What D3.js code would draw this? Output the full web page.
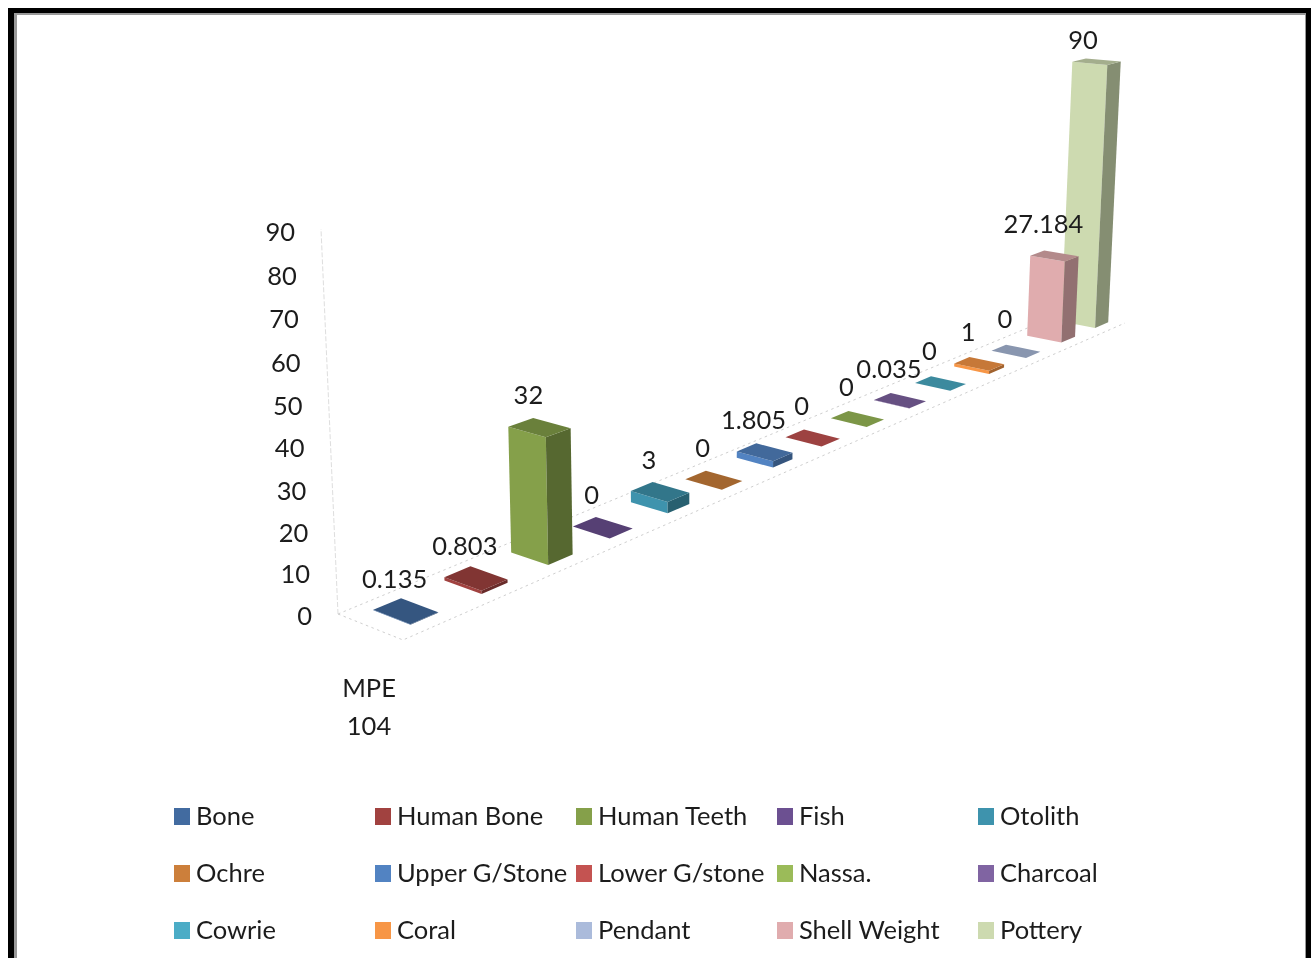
<!DOCTYPE html>
<html><head><meta charset="utf-8">
<script src="https://cdn.jsdelivr.net/npm/d3@7/dist/d3.min.js"></script>
<style>
html,body{margin:0;padding:0;background:#fff;overflow:hidden}
svg{display:block;filter:blur(0.6px)}
text{font-family:Lato,"Noto Sans",sans-serif;fill:#1c1c1c}
</style></head><body>
<script>
const categories=["MPE","104"];
const seriesNames=["Bone","Human Bone","Human Teeth","Fish","Otolith","Ochre","Upper G/Stone","Lower G/stone","Nassa.","Charcoal","Cowrie","Coral","Pendant","Shell Weight","Pottery"];
const seriesValues=[0.135,0.803,32,0,3,0,1.805,0,0,0.035,0,1,0,27.184,90];
const seriesColors=["#426BA0","#A14240","#85A04A","#6C5091","#3E93AD","#CC7F3B","#5283C2","#C45351","#9BBB59","#8064A2","#4BACC6","#F79646","#ABBBDB","#E0ACAE","#CDDAB0"];
const tickValues=[0,10,20,30,40,50,60,70,80,90];

const W=1311,H=958;
const svg=d3.select("body").append("svg").attr("width",W).attr("height",H);

// frame
svg.append("rect").attr("x",8).attr("y",8).attr("width",1310).attr("height",970).attr("fill","#000");
svg.append("rect").attr("x",14).attr("y",13).attr("width",1292).attr("height",960).attr("fill","#999");
svg.append("rect").attr("x",17).attr("y",15).attr("width",1288).attr("height",960).attr("fill","#fff");

// floor homography: unit square (s,t) -> screen
const A=[338,614],D=[1066,312],C=[1125,323],B=[403,640];
const hom=(function(){
  const dx1=D[0]-C[0],dx2=B[0]-C[0],sx=A[0]-D[0]+C[0]-B[0];
  const dy1=D[1]-C[1],dy2=B[1]-C[1],sy=A[1]-D[1]+C[1]-B[1];
  const den=dx1*dy2-dx2*dy1;
  const g=(sx*dy2-dx2*sy)/den,h=(dx1*sy-sx*dy1)/den;
  return {g,h,a:D[0]-A[0]+g*D[0],b:B[0]-A[0]+h*B[0],d:D[1]-A[1]+g*D[1],e:B[1]-A[1]+h*B[1]};
})();
const uScale=d3.scaleLinear().domain([0,seriesValues.length]).range([0,1]);
const heightScale=d3.scaleLinear().domain([0,90]).range([0,378]);
const centerU=d3.scaleLinear().domain([0,2,4,7,10,14]).range([0.505,2.594,4.647,7.70,10.693,14.68]);
function project(u,w,v){
  const s=uScale(u),t=w;
  const q=1+hom.g*s+hom.h*t;
  const x=(hom.a*s+hom.b*t+A[0])/q, y=(hom.d*s+hom.e*t+A[1])/q;
  const h=heightScale(v)/q;
  return [x+(x-704)*0.000119*h, y-h];
}
const halfU=0.2,halfW=0.285;
const line=d3.line();

// y axis scales: the wall edge leans, labels follow the perspective of the wall
const yAxis=d3.scaleLinear().domain([0,90]).range([614,229]);
const edgeX=d3.scaleLinear().domain([0,90]).range([338,321]);
const tickY=d3.scaleLinear().domain([0,30,60,90]).range([616,491,363,232]);

// floor + wall dotted lines
const grid=svg.append("g").attr("fill","none").attr("stroke","#cfcfcf").attr("stroke-width",1);
grid.append("path").attr("d",line([A,B,C])).attr("stroke-dasharray","2.5 3.5");
grid.append("path").attr("d",line([A,D])).attr("stroke-dasharray","2.5 3.5");
grid.append("path").attr("d",line([[edgeX(0),yAxis(0)],[edgeX(90),yAxis(90)]])).attr("stroke-dasharray","5 2").attr("stroke","#dedede");

// bars, far to near
const idx=d3.range(seriesValues.length).reverse();
const bars=svg.append("g").selectAll("g").data(idx).join("g");
bars.each(function(i){
  const g=d3.select(this),v=seriesValues[i],c=d3.color(seriesColors[i]),u=centerU(i);
  const mul=(f)=>d3.rgb(c.r*f,c.g*f,c.b*f).formatHex();
  const L=[u-halfU,0.5-halfW],F=[u-halfU,0.5+halfW],R=[u+halfU,0.5+halfW],Bk=[u+halfU,0.5-halfW];
  const pt=(p,val)=>project(p[0],p[1],val);
  g.append("path").attr("fill",seriesColors[i]).attr("d",line([pt(L,0),pt(F,0),pt(F,v),pt(L,v)])+"Z");
  g.append("path").attr("fill",mul(0.65)).attr("d",line([pt(F,0),pt(R,0),pt(R,v),pt(F,v)])+"Z");
  g.append("path").attr("fill",mul(0.8)).attr("d",line([pt(L,v),pt(F,v),pt(R,v),pt(Bk,v)])+"Z");
});

// value labels
svg.append("g").attr("font-size",25.5).attr("text-anchor","middle").selectAll("text").data(d3.range(seriesValues.length)).join("text")
  .attr("x",i=>Math.min(1083,project(centerU(i),0.5,seriesValues[i])[0]-11))
  .attr("y",i=>Math.max(40,project(centerU(i),0.5,seriesValues[i])[1]-32))
  .attr("dy","0.35em")
  .text(i=>String(seriesValues[i]));

// y axis labels through d3.axis, ticks moved along the leaning wall edge
const ax=svg.append("g").call(d3.axisLeft(yAxis).tickValues(tickValues).tickSize(0).tickPadding(0));
ax.select(".domain").remove();
ax.attr("font-size",null).attr("font-family",null);
ax.selectAll(".tick").attr("transform",d=>`translate(${edgeX(d)-26},${tickY(d)})`);
ax.selectAll("text").attr("font-size",25.5).attr("fill","#1c1c1c").attr("x",0).attr("dy","0.35em");

// category label
svg.append("g").attr("font-size",25.5).attr("text-anchor","middle").selectAll("text").data(categories).join("text")
  .attr("x",369).attr("y",(d,i)=>688+38*i).attr("dy","0.35em").text(d=>d);

// legend
const legCols=d3.scaleLinear().domain([0,4]).range([174,978]);
const legRows=d3.scaleLinear().domain([0,2]).range([816,930]);
const leg=svg.append("g").selectAll("g").data(seriesNames).join("g")
  .attr("transform",(d,i)=>`translate(${legCols(i%5)},${legRows(Math.floor(i/5))})`);
leg.append("rect").attr("x",0).attr("y",-8).attr("width",16).attr("height",17).attr("fill",(d,i)=>seriesColors[i]);
leg.append("text").attr("x",22).attr("font-size",25.5).attr("dy","0.35em").text(d=>d);
</script>
</body></html>
